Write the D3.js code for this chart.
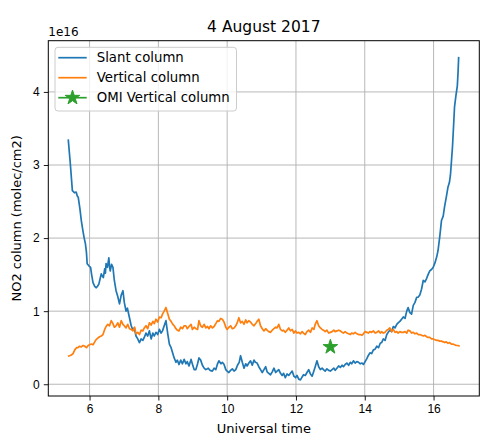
<!DOCTYPE html>
<html>
<head>
<meta charset="utf-8">
<script src="https://cdn.jsdelivr.net/npm/d3@7"></script>
<style>
body { margin: 0; background: #fff; }
svg { font-family: "DejaVu Sans", sans-serif; }
.grid line { stroke: #b0b0b0; stroke-width: 0.9; }
.axis path { display: none; }
.axis line { stroke: #000; stroke-width: 0.9; }
.axis text { fill: #000; font-size: 12px; }
</style>
</head>
<body>
<div id="chart"></div>
<script>
// NO2 columns, values in units of 1e16 molec/cm2, time in UT hours
var slantTime = [5.38,5.44,5.50,5.56,5.61,5.64,5.67,5.72,5.76,5.80,5.84,5.88,5.91,5.93,5.98,6.03,6.06,6.10,6.15,6.19,
  6.23,6.27,6.31,6.34,6.37,6.40,6.44,6.46,6.48,6.52,6.56,6.58,6.60,6.64,6.68,6.72,6.77,6.82,6.87,6.92,
  6.97,7.01,7.06,7.10,7.16,7.21,7.26,7.30,7.35,7.40,7.45,7.50,7.55,7.59,7.64,7.69,7.74,7.79,7.84,7.88,
  7.93,7.98,8.03,8.08,8.12,8.17,8.22,8.27,8.32,8.37,8.42,8.46,8.51,8.55,8.60,8.65,8.70,8.75,8.80,8.84,
  8.89,8.95,9.00,9.04,9.09,9.14,9.18,9.23,9.28,9.33,9.38,9.45,9.50,9.57,9.62,9.67,9.72,9.76,9.82,9.86,
  9.91,9.96,10.00,10.05,10.10,10.15,10.20,10.25,10.30,10.35,10.39,10.44,10.49,10.54,10.58,10.63,10.68,10.73,10.78,10.82,
  10.87,10.92,10.97,11.02,11.07,11.12,11.16,11.21,11.26,11.31,11.36,11.41,11.45,11.50,11.55,11.60,11.64,11.69,11.74,11.79,
  11.84,11.89,11.94,11.99,12.03,12.08,12.13,12.18,12.22,12.27,12.32,12.37,12.42,12.47,12.52,12.56,12.61,12.66,12.71,12.76,
  12.80,12.85,12.90,12.95,13.00,13.05,13.10,13.14,13.19,13.24,13.29,13.34,13.38,13.43,13.48,13.53,13.58,13.62,13.67,13.72,
  13.77,13.82,13.87,13.92,13.96,14.01,14.06,14.10,14.15,14.20,14.25,14.30,14.35,14.40,14.45,14.49,14.54,14.59,14.64,14.68,
  14.73,14.78,14.83,14.88,14.93,14.97,15.02,15.07,15.12,15.17,15.22,15.26,15.31,15.36,15.41,15.46,15.51,15.55,15.60,15.65,
  15.70,15.75,15.80,15.84,15.89,15.94,15.99,16.04,16.09,16.13,16.18,16.23,16.28,16.32,16.37,16.42,16.46,16.49,16.52,16.55,
  16.58,16.61,16.65,16.69,16.71,16.73];
var slantValue = [3.35,3.02,2.65,2.62,2.63,2.58,2.56,2.40,2.24,2.12,2.01,1.92,1.80,1.65,1.62,1.60,1.50,1.39,1.34,1.32,
  1.34,1.37,1.45,1.51,1.48,1.46,1.58,1.52,1.65,1.60,1.73,1.62,1.55,1.64,1.60,1.42,1.28,1.20,1.10,1.22,
  1.28,1.12,1.00,1.04,0.91,0.80,0.74,0.77,0.66,0.62,0.57,0.62,0.60,0.64,0.70,0.66,0.73,0.62,0.70,0.66,
  0.71,0.68,0.75,0.70,0.73,0.80,0.87,0.70,0.55,0.50,0.42,0.36,0.30,0.33,0.27,0.33,0.28,0.34,0.28,0.31,
  0.25,0.34,0.26,0.20,0.20,0.28,0.36,0.33,0.26,0.22,0.20,0.22,0.19,0.18,0.22,0.20,0.28,0.32,0.28,0.30,
  0.27,0.20,0.18,0.16,0.19,0.21,0.18,0.20,0.26,0.30,0.39,0.30,0.22,0.28,0.25,0.29,0.32,0.26,0.33,0.30,
  0.29,0.24,0.20,0.16,0.20,0.24,0.17,0.15,0.13,0.17,0.22,0.16,0.18,0.20,0.15,0.12,0.15,0.09,0.14,0.12,
  0.15,0.18,0.11,0.09,0.12,0.07,0.06,0.10,0.13,0.12,0.16,0.20,0.14,0.11,0.18,0.24,0.32,0.24,0.20,0.22,
  0.20,0.18,0.21,0.19,0.18,0.20,0.22,0.19,0.22,0.25,0.23,0.26,0.24,0.27,0.29,0.26,0.30,0.28,0.32,0.29,
  0.31,0.30,0.28,0.29,0.27,0.31,0.35,0.39,0.43,0.42,0.47,0.48,0.52,0.50,0.56,0.57,0.62,0.60,0.68,0.71,
  0.74,0.72,0.79,0.77,0.82,0.84,0.86,0.89,0.92,0.90,1.00,1.05,0.98,0.96,1.08,1.12,1.19,1.19,1.22,1.30,
  1.42,1.40,1.45,1.50,1.55,1.57,1.60,1.66,1.74,1.83,2.02,2.24,2.30,2.43,2.56,2.70,2.76,2.86,3.05,3.25,
  3.52,3.80,3.95,4.08,4.25,4.48];

var vertTime = [5.37,5.42,5.47,5.52,5.57,5.62,5.66,5.71,5.76,5.81,5.86,5.91,5.96,6.00,6.05,6.10,6.15,6.19,6.24,6.29,
  6.34,6.39,6.44,6.48,6.53,6.58,6.63,6.68,6.72,6.77,6.82,6.87,6.92,6.97,7.01,7.06,7.11,7.16,7.21,7.26,
  7.31,7.35,7.40,7.45,7.50,7.55,7.59,7.64,7.69,7.74,7.79,7.84,7.88,7.93,7.98,8.03,8.08,8.12,8.17,8.22,
  8.27,8.32,8.37,8.42,8.46,8.51,8.55,8.60,8.65,8.70,8.75,8.80,8.84,8.89,8.95,8.99,9.04,9.09,9.14,9.18,
  9.23,9.28,9.33,9.38,9.43,9.47,9.52,9.57,9.62,9.67,9.72,9.76,9.81,9.86,9.91,9.96,10.00,10.05,10.10,10.15,
  10.20,10.25,10.30,10.34,10.39,10.44,10.49,10.54,10.58,10.63,10.68,10.73,10.78,10.83,10.87,10.92,10.97,11.02,11.07,11.12,
  11.16,11.21,11.26,11.31,11.36,11.41,11.45,11.50,11.55,11.60,11.64,11.69,11.74,11.79,11.84,11.89,11.94,11.99,12.03,12.08,
  12.13,12.18,12.22,12.27,12.32,12.37,12.42,12.47,12.52,12.56,12.61,12.66,12.71,12.76,12.80,12.85,12.90,12.95,13.00,13.05,
  13.10,13.14,13.19,13.24,13.29,13.34,13.38,13.43,13.48,13.53,13.58,13.62,13.67,13.72,13.77,13.82,13.87,13.92,13.96,14.01,
  14.06,14.10,14.15,14.20,14.25,14.30,14.35,14.40,14.45,14.49,14.54,14.59,14.64,14.68,14.73,14.78,14.83,14.88,14.93,14.97,
  15.02,15.07,15.12,15.17,15.22,15.26,15.31,15.36,15.41,15.46,15.51,15.55,15.60,15.65,15.70,15.75,15.80,15.84,15.89,15.94,
  15.99,16.04,16.09,16.13,16.18,16.23,16.28,16.32,16.37,16.42,16.47,16.52,16.56,16.61,16.66,16.71,16.76];
var vertValue = [0.385,0.39,0.40,0.42,0.47,0.50,0.50,0.52,0.51,0.53,0.52,0.50,0.53,0.54,0.55,0.54,0.58,0.61,0.63,0.65,
  0.66,0.68,0.75,0.79,0.82,0.80,0.87,0.83,0.78,0.80,0.84,0.78,0.87,0.82,0.80,0.77,0.82,0.76,0.75,0.73,
  0.78,0.69,0.71,0.68,0.74,0.73,0.77,0.80,0.76,0.84,0.81,0.86,0.83,0.89,0.85,0.92,0.91,0.96,1.00,1.05,
  0.97,0.89,0.86,0.82,0.80,0.76,0.74,0.73,0.78,0.76,0.80,0.80,0.76,0.79,0.82,0.75,0.78,0.76,0.75,0.87,
  0.80,0.78,0.82,0.77,0.79,0.76,0.80,0.77,0.79,0.83,0.87,0.86,0.90,0.89,0.85,0.78,0.75,0.78,0.80,0.76,
  0.77,0.80,0.85,0.91,0.84,0.86,0.82,0.88,0.84,0.87,0.85,0.82,0.80,0.83,0.86,0.89,0.80,0.76,0.73,0.76,
  0.74,0.72,0.71,0.74,0.76,0.78,0.77,0.82,0.75,0.73,0.74,0.71,0.74,0.77,0.73,0.75,0.70,0.73,0.70,0.71,
  0.69,0.72,0.70,0.68,0.72,0.74,0.71,0.77,0.75,0.82,0.87,0.80,0.77,0.75,0.74,0.72,0.74,0.70,0.71,0.72,
  0.74,0.72,0.73,0.74,0.73,0.71,0.70,0.72,0.70,0.69,0.68,0.70,0.69,0.71,0.69,0.68,0.68,0.67,0.69,0.72,
  0.71,0.70,0.72,0.71,0.73,0.70,0.71,0.73,0.70,0.72,0.70,0.71,0.74,0.75,0.77,0.72,0.75,0.71,0.72,0.70,
  0.72,0.71,0.71,0.72,0.70,0.74,0.73,0.70,0.71,0.69,0.70,0.68,0.68,0.67,0.66,0.67,0.65,0.64,0.64,0.62,
  0.62,0.61,0.60,0.60,0.59,0.59,0.58,0.57,0.58,0.56,0.57,0.55,0.55,0.54,0.53,0.53,0.52];

var omiTime = [13.0];
var omiValue = [0.51];

var xTicks = [6, 8, 10, 12, 14, 16];
var yTicks = [0, 1, 2, 3, 4];
var seriesNames = ["Slant column", "Vertical column", "OMI Vertical column"];
var colors = ["#1f77b4", "#ff7f0e", "#2ca02c"];

var width = 500, height = 441;
var plotLeft = 48.3, plotRight = 479.3, plotTop = 40.7, plotBottom = 396;

function padded(vals) {
    var ext = d3.extent(vals);
    var pad = (ext[1] - ext[0]) * 0.05;
    return [ext[0] - pad, ext[1] + pad];
}

var x = d3.scaleLinear().
    domain(padded(slantTime.concat(vertTime, omiTime))).
    range([plotLeft, plotRight]);
var y = d3.scaleLinear().
    domain(padded(slantValue.concat(vertValue, omiValue))).
    range([plotBottom, plotTop]);

var svg = d3.select("#chart").append("svg").
    attr("width", width).
    attr("height", height);

// grid
var grid = svg.append("g").attr("class", "grid");
grid.selectAll("line.gx").data(xTicks).enter().append("line").
    attr("x1", function(d) { return x(d); }).
    attr("x2", function(d) { return x(d); }).
    attr("y1", plotTop).attr("y2", plotBottom);
grid.selectAll("line.gy").data(yTicks).enter().append("line").
    attr("y1", function(d) { return y(d); }).
    attr("y2", function(d) { return y(d); }).
    attr("x1", plotLeft).attr("x2", plotRight);

// lines
function pairs(t, v) {
    return t.map(function(d, i) { return [d, v[i]]; });
}
var line = d3.line().
    x(function(d) { return x(d[0]); }).
    y(function(d) { return y(d[1]); });

var plot = svg.append("g");
plot.append("path").
    datum(pairs(slantTime, slantValue)).
    attr("d", line).
    attr("fill", "none").
    attr("stroke", colors[0]).
    attr("stroke-width", 1.7).
    attr("stroke-linejoin", "round");
plot.append("path").
    datum(pairs(vertTime, vertValue)).
    attr("d", line).
    attr("fill", "none").
    attr("stroke", colors[1]).
    attr("stroke-width", 1.7).
    attr("stroke-linejoin", "round");

var star = d3.symbol().type(d3.symbolStar).size(66);
plot.selectAll("path.omi").data(pairs(omiTime, omiValue)).enter().append("path").
    attr("class", "omi").
    attr("d", star).
    attr("transform", function(d) { return "translate(" + x(d[0]) + "," + y(d[1]) + ")"; }).
    attr("fill", colors[2]).
    attr("stroke", colors[2]).
    attr("stroke-width", 1);

// spines
svg.append("rect").
    attr("x", plotLeft).attr("y", plotTop).
    attr("width", plotRight - plotLeft).attr("height", plotBottom - plotTop).
    attr("fill", "none").attr("stroke", "#000").attr("stroke-width", 1);

// axes
svg.append("g").
    attr("class", "axis").
    attr("transform", "translate(0," + plotBottom + ")").
    call(d3.axisBottom(x).tickValues(xTicks).tickSize(4.5).tickPadding(4).tickFormat(d3.format("d")));
svg.append("g").
    attr("class", "axis").
    attr("transform", "translate(" + plotLeft + ",0)").
    call(d3.axisLeft(y).tickValues(yTicks).tickSize(4.5).tickPadding(4).tickFormat(d3.format("d")));

svg.append("text").
    attr("x", plotLeft).attr("y", 35.5).
    attr("font-size", 12).
    text("1e16");

svg.append("text").
    attr("x", (plotLeft + plotRight) / 2).attr("y", 32).
    attr("text-anchor", "middle").
    attr("font-size", 15.5).
    text("4 August 2017");

svg.append("text").
    attr("x", (plotLeft + plotRight) / 2).attr("y", 433).
    attr("text-anchor", "middle").
    attr("font-size", 13).
    text("Universal time");

svg.append("text").
    attr("transform", "translate(21," + (plotTop + plotBottom) / 2 + ") rotate(-90)").
    attr("text-anchor", "middle").
    attr("font-size", 13).
    text("NO2 column (molec/cm2)");

// legend
var legend = svg.append("g").attr("transform", "translate(55,47.3)");
legend.append("rect").
    attr("width", 181.5).attr("height", 63.7).
    attr("rx", 3).
    attr("fill", "#fff").attr("fill-opacity", 0.8).
    attr("stroke", "#cccccc").attr("stroke-width", 1);
var rows = legend.selectAll("g.item").data(seriesNames).enter().append("g").
    attr("class", "item").
    attr("transform", function(d, i) { return "translate(0," + (10.4 + i * 20) + ")"; });
rows.append("line").
    attr("x1", 3.3).attr("x2", 31.7).
    attr("stroke", function(d, i) { return colors[i]; }).
    attr("stroke-width", 1.7);
rows.filter(function(d, i) { return i == 2; }).append("path").
    attr("d", star).
    attr("transform", "translate(17.5,0)").
    attr("fill", colors[2]).
    attr("stroke", colors[2]);
rows.append("text").
    attr("x", 41.7).attr("y", 0).
    attr("dy", "0.35em").
    attr("font-size", 13.3).
    text(function(d) { return d; });
</script>
</body>
</html>
